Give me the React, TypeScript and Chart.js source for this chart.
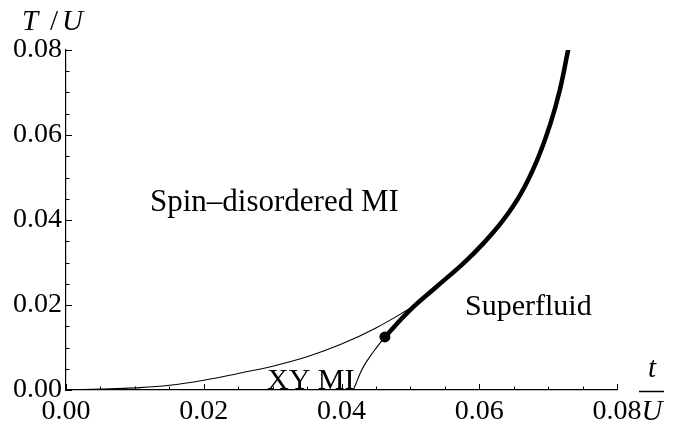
import React, { useEffect, useRef } from "react";
import { Chart, registerables } from "chart.js";

Chart.register(...registerables);

// Upper thin crossover curve (spin-disordered MI / XY MI boundary)
const upperT = [0, 0.005, 0.01, 0.015, 0.02, 0.025, 0.03, 0.035, 0.04, 0.045, 0.0505];
const upperTemp = [0, 0.0002, 0.0005, 0.0011, 0.0023, 0.0039, 0.0056, 0.0078, 0.0108, 0.0146, 0.0197];

// Thin XY MI -> superfluid boundary
const xyT = [0.0417, 0.0422, 0.0427, 0.0433, 0.0441, 0.0452, 0.0463];
const xyTemp = [0, 0.0019, 0.0039, 0.0058, 0.0078, 0.0102, 0.0125];

// Thick superfluid boundary
const sfT = [0.0463, 0.04995, 0.0538, 0.0577, 0.0606, 0.0633, 0.0659, 0.0683, 0.0703, 0.0717, 0.0729];
const sfTemp = [0.0125, 0.0188, 0.0243, 0.0298, 0.0345, 0.0396, 0.0458, 0.0537, 0.0625, 0.0706, 0.0800];

// Critical point
const dotT = [0.0463];
const dotTemp = [0.0125];

const xTicks = [0, 0.02, 0.04, 0.06, 0.08];
const yTicks = [0, 0.02, 0.04, 0.06, 0.08];

const FONT = '"Liberation Serif", "DejaVu Serif", serif';

const pts = (xs: number[], ys: number[]) => xs.map((x, i) => ({ x, y: ys[i] }));

const decorPlugin = {
  id: "decor",
  afterDraw(chart: any) {
    const ctx = chart.ctx as CanvasRenderingContext2D;
    const xs = chart.scales.x;
    const ys = chart.scales.y;
    const { left, bottom } = chart.chartArea;
    ctx.save();
    ctx.strokeStyle = "#000";
    ctx.lineWidth = 1;
    // inward ticks
    for (let i = 0; i <= 16; i++) {
      const v = i * 0.005;
      const len = i % 4 === 0 ? 6 : 3.5;
      const px = Math.round(xs.getPixelForValue(v)) + 0.5;
      ctx.beginPath();
      ctx.moveTo(px, bottom);
      ctx.lineTo(px, bottom - len);
      ctx.stroke();
      const py = Math.round(ys.getPixelForValue(v)) + 0.5;
      ctx.beginPath();
      ctx.moveTo(left, py);
      ctx.lineTo(left + len, py);
      ctx.stroke();
    }
    ctx.fillStyle = "#000";
    ctx.textBaseline = "alphabetic";
    // y axis title  T / U
    ctx.font = `italic 29px ${FONT}`;
    ctx.textAlign = "left";
    ctx.fillText("T", 22, 30);
    ctx.font = `29px ${FONT}`;
    ctx.fillText("/", 50, 30);
    ctx.font = `italic 29px ${FONT}`;
    ctx.fillText("U", 62, 30);
    // x axis title t over U
    ctx.textAlign = "center";
    ctx.fillText("t", 652, 377);
    ctx.fillText("U", 652, 420);
    ctx.beginPath();
    ctx.lineWidth = 1.5;
    ctx.moveTo(639, 391.5);
    ctx.lineTo(664, 391.5);
    ctx.stroke();
    // region labels
    ctx.textAlign = "left";
    ctx.font = `31px ${FONT}`;
    ctx.fillText("Spin\u2013disordered MI", 150, 211);
    ctx.font = `30px ${FONT}`;
    ctx.fillText("Superfluid", 465, 315);
    ctx.fillText("XY MI", 267, 389);
    ctx.restore();
  },
};

export default function App() {
  const ref = useRef<HTMLCanvasElement | null>(null);
  useEffect(() => {
    document.body.style.margin = "0";
    const canvas = ref.current!;
    const chart = new Chart(canvas, {
      type: "scatter",
      data: {
        datasets: [
          {
            data: pts(upperT, upperTemp),
            showLine: true,
            borderColor: "#000",
            borderWidth: 1.1,
            pointRadius: 0,
            tension: 0.4,
          },
          {
            data: pts(xyT, xyTemp),
            showLine: true,
            borderColor: "#000",
            borderWidth: 1.1,
            pointRadius: 0,
            tension: 0.4,
          },
          {
            data: pts(sfT, sfTemp),
            showLine: true,
            borderColor: "#000",
            borderWidth: 4.5,
            pointRadius: 0,
            tension: 0.4,
            borderCapStyle: "round",
          },
          {
            data: pts(dotT, dotTemp),
            showLine: false,
            pointRadius: 5.5,
            pointBackgroundColor: "#000",
            pointBorderColor: "#000",
            borderWidth: 0,
          },
        ],
      },
      options: {
        responsive: false,
        animation: false,
        devicePixelRatio: 1,
        layout: { padding: { left: 0, top: 50, right: 61, bottom: 0 } },
        plugins: { legend: { display: false }, tooltip: { enabled: false } },
        scales: {
          x: {
            type: "linear",
            min: 0,
            max: 0.08,
            afterFit: (s: any) => {
              s.height = 36;
            },
            afterBuildTicks: (s: any) => {
              s.ticks = xTicks.map((v) => ({ value: v }));
            },
            grid: { display: false, drawTicks: false, tickLength: 0 },
            border: { display: true, color: "#000", width: 1.2 },
            ticks: {
              color: "#000",
              font: { family: FONT, size: 28 },
              padding: 5,
              maxRotation: 0,
              callback: (v: any) => Number(v).toFixed(2),
            },
          },
          y: {
            type: "linear",
            min: 0,
            max: 0.08,
            afterFit: (s: any) => {
              s.width = 66;
            },
            afterBuildTicks: (s: any) => {
              s.ticks = yTicks.map((v) => ({ value: v }));
            },
            grid: { display: false, drawTicks: false, tickLength: 0 },
            border: { display: true, color: "#000", width: 1.2 },
            ticks: {
              color: "#000",
              font: { family: FONT, size: 28 },
              padding: 4,
              callback: (v: any) => Number(v).toFixed(2),
            },
          },
        },
      },
      plugins: [decorPlugin],
    });
    return () => chart.destroy();
  }, []);
  return (
    <div style={{ width: 678, height: 426 }}>
      <canvas ref={ref} width={678} height={426} />
    </div>
  );
}
